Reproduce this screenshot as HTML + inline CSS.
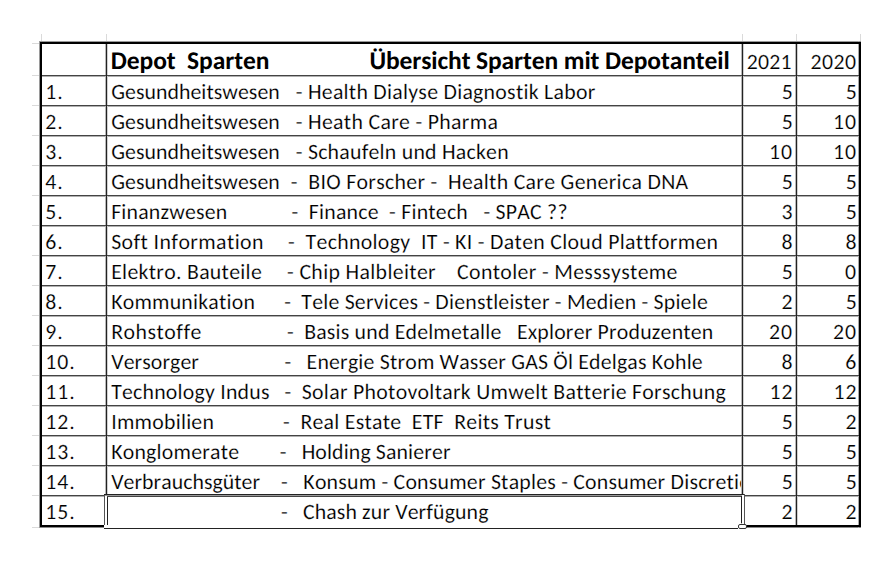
<!DOCTYPE html>
<html><head><meta charset="utf-8"><title>Depot Sparten</title>
<style>
html,body{margin:0;padding:0;background:#fff;}
body{width:891px;height:566px;position:relative;overflow:hidden;font-family:"Carlito", "Liberation Sans", sans-serif;color:#000;font-kerning:none;font-variant-ligatures:none;font-feature-settings:"kern" 0,"liga" 0,"clig" 0;text-rendering:geometricPrecision;}
.t{position:absolute;font-size:21.8px;line-height:30px;height:30px;white-space:pre;-webkit-text-stroke:0.2px rgba(255,255,255,0.9);}
.b{font-weight:bold;font-size:25.5px;-webkit-text-stroke:0;}
.ln{position:absolute;}
.h{height:1px;background:#444;box-shadow:0 1px 0 #b0b0b0;}
.v{width:1px;background:#222;box-shadow:-1px 0 0 #b8b8b8,1px 0 0 #d0d0d0;}
.g{position:absolute;background:#dadada;}
.clip{position:absolute;overflow:hidden;height:30px;}
body.fb .t{font-family:"Liberation Sans",Arial,sans-serif;font-size:19.62px;letter-spacing:0 !important;-webkit-text-stroke:0;transform-origin:0 0;}
body.fb .b{font-size:22.95px;}
</style></head><body>

<div class="g" style="left:41px;top:34px;width:1px;height:8px"></div>
<div class="g" style="left:106px;top:34px;width:1px;height:8px"></div>
<div class="g" style="left:742px;top:34px;width:1px;height:8px"></div>
<div class="g" style="left:796px;top:34px;width:1px;height:8px"></div>
<div class="g" style="left:860px;top:34px;width:1px;height:8px"></div>
<div class="g" style="left:32px;top:43px;width:8px;height:1px"></div>
<div class="g" style="left:32px;top:75px;width:8px;height:1px"></div>
<div class="g" style="left:32px;top:105px;width:8px;height:1px"></div>
<div class="g" style="left:32px;top:135px;width:8px;height:1px"></div>
<div class="g" style="left:32px;top:165px;width:8px;height:1px"></div>
<div class="g" style="left:32px;top:195px;width:8px;height:1px"></div>
<div class="g" style="left:32px;top:225px;width:8px;height:1px"></div>
<div class="g" style="left:32px;top:255px;width:8px;height:1px"></div>
<div class="g" style="left:32px;top:285px;width:8px;height:1px"></div>
<div class="g" style="left:32px;top:315px;width:8px;height:1px"></div>
<div class="g" style="left:32px;top:345px;width:8px;height:1px"></div>
<div class="g" style="left:32px;top:375px;width:8px;height:1px"></div>
<div class="g" style="left:32px;top:405px;width:8px;height:1px"></div>
<div class="g" style="left:32px;top:435px;width:8px;height:1px"></div>
<div class="g" style="left:32px;top:465px;width:8px;height:1px"></div>
<div class="g" style="left:32px;top:495px;width:8px;height:1px"></div>
<div class="g" style="left:32px;top:527px;width:8px;height:1px"></div>
<div class="ln" style="left:39px;top:41px;width:822px;height:1px;background:#9a9a9a"></div>
<div class="ln" style="left:39px;top:527px;width:822px;height:1px;background:#8a8a8a"></div>
<div class="ln" style="left:39px;top:41px;width:1px;height:487px;background:#9a9a9a"></div>
<div class="ln" style="left:858px;top:41px;width:1px;height:487px;background:#a8a8a8"></div>
<div class="ln" style="left:42px;top:76px;width:817px;height:1px;background:#b0b0b0"></div>
<div class="ln" style="left:42px;top:106px;width:817px;height:1px;background:#b0b0b0"></div>
<div class="ln" style="left:42px;top:136px;width:817px;height:1px;background:#b0b0b0"></div>
<div class="ln" style="left:42px;top:166px;width:817px;height:1px;background:#b0b0b0"></div>
<div class="ln" style="left:42px;top:196px;width:817px;height:1px;background:#b0b0b0"></div>
<div class="ln" style="left:42px;top:226px;width:817px;height:1px;background:#b0b0b0"></div>
<div class="ln" style="left:42px;top:256px;width:817px;height:1px;background:#b0b0b0"></div>
<div class="ln" style="left:42px;top:286px;width:817px;height:1px;background:#b0b0b0"></div>
<div class="ln" style="left:42px;top:316px;width:817px;height:1px;background:#b0b0b0"></div>
<div class="ln" style="left:42px;top:346px;width:817px;height:1px;background:#b0b0b0"></div>
<div class="ln" style="left:42px;top:376px;width:817px;height:1px;background:#b0b0b0"></div>
<div class="ln" style="left:42px;top:406px;width:817px;height:1px;background:#b0b0b0"></div>
<div class="ln" style="left:42px;top:436px;width:817px;height:1px;background:#b0b0b0"></div>
<div class="ln" style="left:42px;top:466px;width:817px;height:1px;background:#b0b0b0"></div>
<div class="ln" style="left:42px;top:496px;width:817px;height:1px;background:#b0b0b0"></div>
<div class="ln" style="left:105px;top:44px;width:1px;height:481px;background:#b8b8b8"></div>
<div class="ln" style="left:107px;top:44px;width:1px;height:481px;background:#d0d0d0"></div>
<div class="ln" style="left:741px;top:44px;width:1px;height:481px;background:#b8b8b8"></div>
<div class="ln" style="left:743px;top:44px;width:1px;height:481px;background:#d0d0d0"></div>
<div class="ln" style="left:795px;top:44px;width:1px;height:481px;background:#b8b8b8"></div>
<div class="ln" style="left:797px;top:44px;width:1px;height:481px;background:#d0d0d0"></div>
<div class="ln" style="left:42px;top:75px;width:817px;height:1px;background:#444"></div>
<div class="ln" style="left:42px;top:105px;width:817px;height:1px;background:#444"></div>
<div class="ln" style="left:42px;top:135px;width:817px;height:1px;background:#444"></div>
<div class="ln" style="left:42px;top:165px;width:817px;height:1px;background:#444"></div>
<div class="ln" style="left:42px;top:195px;width:817px;height:1px;background:#444"></div>
<div class="ln" style="left:42px;top:225px;width:817px;height:1px;background:#444"></div>
<div class="ln" style="left:42px;top:255px;width:817px;height:1px;background:#444"></div>
<div class="ln" style="left:42px;top:285px;width:817px;height:1px;background:#444"></div>
<div class="ln" style="left:42px;top:315px;width:817px;height:1px;background:#444"></div>
<div class="ln" style="left:42px;top:345px;width:817px;height:1px;background:#444"></div>
<div class="ln" style="left:42px;top:375px;width:817px;height:1px;background:#444"></div>
<div class="ln" style="left:42px;top:405px;width:817px;height:1px;background:#444"></div>
<div class="ln" style="left:42px;top:435px;width:817px;height:1px;background:#444"></div>
<div class="ln" style="left:42px;top:465px;width:817px;height:1px;background:#444"></div>
<div class="ln" style="left:42px;top:495px;width:817px;height:1px;background:#444"></div>
<div class="ln" style="left:106px;top:44px;width:1px;height:481px;background:#222"></div>
<div class="ln" style="left:742px;top:44px;width:1px;height:481px;background:#222"></div>
<div class="ln" style="left:796px;top:44px;width:1px;height:481px;background:#222"></div>
<div class="ln" style="left:40px;top:42px;width:821px;height:2px;background:#000"></div>
<div class="ln" style="left:40px;top:525px;width:821px;height:2px;background:#000"></div>
<div class="ln" style="left:40px;top:42px;width:2px;height:485px;background:#000"></div>
<div class="ln" style="left:859px;top:42px;width:2px;height:485px;background:#000"></div>
<div class="t b" style="left:110.66px;top:46px;width:158.83px;letter-spacing:-0.042px">Depot  Sparten</div>
<div class="t b" style="left:369.41px;top:46px;width:360.14px;letter-spacing:-0.098px">Übersicht Sparten mit Depotanteil</div>
<div class="t" style="left:746.72px;top:47px;width:45.08px;letter-spacing:0.221px">2021</div>
<div class="t" style="left:810.62px;top:47px;width:45.73px;letter-spacing:0.382px">2020</div>
<div class="t" style="left:45.20px;top:77px;width:18.55px;letter-spacing:1.0px">1.</div>
<div class="t" style="left:111.20px;top:77px;width:168.68px;letter-spacing:0.050px">Gesundheitswesen</div>
<div class="t" style="left:295.80px;top:77px;width:299.79px;letter-spacing:0.264px">- Health Dialyse Diagnostik Labor</div>
<div class="t" style="left:781.84px;top:77px;width:12.05px;letter-spacing:1.0px">5</div>
<div class="t" style="left:845.84px;top:77px;width:12.05px;letter-spacing:1.0px">5</div>
<div class="t" style="left:45.20px;top:107px;width:18.55px;letter-spacing:1.0px">2.</div>
<div class="t" style="left:111.20px;top:107px;width:168.68px;letter-spacing:0.050px">Gesundheitswesen</div>
<div class="t" style="left:295.80px;top:107px;width:202.46px;letter-spacing:0.316px">- Heath Care - Pharma</div>
<div class="t" style="left:781.84px;top:107px;width:12.05px;letter-spacing:1.0px">5</div>
<div class="t" style="left:833.07px;top:107px;width:24.10px;letter-spacing:1.0px">10</div>
<div class="t" style="left:45.20px;top:137px;width:18.55px;letter-spacing:1.0px">3.</div>
<div class="t" style="left:111.20px;top:137px;width:168.68px;letter-spacing:0.050px">Gesundheitswesen</div>
<div class="t" style="left:295.80px;top:137px;width:213.07px;letter-spacing:0.239px">- Schaufeln und Hacken</div>
<div class="t" style="left:769.07px;top:137px;width:24.10px;letter-spacing:1.0px">10</div>
<div class="t" style="left:833.07px;top:137px;width:24.10px;letter-spacing:1.0px">10</div>
<div class="t" style="left:45.20px;top:167px;width:18.55px;letter-spacing:1.0px">4.</div>
<div class="t" style="left:111.20px;top:167px;width:168.68px;letter-spacing:0.050px">Gesundheitswesen</div>
<div class="t" style="left:290.80px;top:167px;width:397.68px;letter-spacing:0.303px">-  BIO Forscher -  Health Care Generica DNA</div>
<div class="t" style="left:781.84px;top:167px;width:12.05px;letter-spacing:1.0px">5</div>
<div class="t" style="left:845.84px;top:167px;width:12.05px;letter-spacing:1.0px">5</div>
<div class="t" style="left:45.20px;top:197px;width:18.55px;letter-spacing:1.0px">5.</div>
<div class="t" style="left:111.20px;top:197px;width:116.10px;letter-spacing:0.169px">Finanzwesen</div>
<div class="t" style="left:291.60px;top:197px;width:276.22px;letter-spacing:0.226px">-  Finance  - Fintech   - SPAC ??</div>
<div class="t" style="left:781.38px;top:197px;width:12.05px;letter-spacing:1.0px">3</div>
<div class="t" style="left:845.84px;top:197px;width:12.05px;letter-spacing:1.0px">5</div>
<div class="t" style="left:45.20px;top:227px;width:18.55px;letter-spacing:1.0px">6.</div>
<div class="t" style="left:111.20px;top:227px;width:152.63px;letter-spacing:0.402px">Soft Information</div>
<div class="t" style="left:288.10px;top:227px;width:430.34px;letter-spacing:0.315px">-  Technology  IT - KI - Daten Cloud Plattformen</div>
<div class="t" style="left:781.42px;top:227px;width:12.05px;letter-spacing:1.0px">8</div>
<div class="t" style="left:845.42px;top:227px;width:12.05px;letter-spacing:1.0px">8</div>
<div class="t" style="left:45.20px;top:257px;width:18.55px;letter-spacing:1.0px">7.</div>
<div class="t" style="left:111.20px;top:257px;width:150.88px;letter-spacing:0.287px">Elektro. Bauteile</div>
<div class="t" style="left:287.10px;top:257px;width:390.73px;letter-spacing:0.341px">- Chip Halbleiter    Contoler - Messsysteme</div>
<div class="t" style="left:781.84px;top:257px;width:12.05px;letter-spacing:1.0px">5</div>
<div class="t" style="left:845.12px;top:257px;width:12.05px;letter-spacing:1.0px">0</div>
<div class="t" style="left:45.20px;top:287px;width:18.55px;letter-spacing:1.0px">8.</div>
<div class="t" style="left:111.20px;top:287px;width:143.94px;letter-spacing:0.214px">Kommunikation</div>
<div class="t" style="left:284.20px;top:287px;width:423.79px;letter-spacing:0.209px">-  Tele Services - Dienstleister - Medien - Spiele</div>
<div class="t" style="left:781.48px;top:287px;width:12.05px;letter-spacing:1.0px">2</div>
<div class="t" style="left:845.84px;top:287px;width:12.05px;letter-spacing:1.0px">5</div>
<div class="t" style="left:45.20px;top:317px;width:18.55px;letter-spacing:1.0px">9.</div>
<div class="t" style="left:111.20px;top:317px;width:90.79px;letter-spacing:0.503px">Rohstoffe</div>
<div class="t" style="left:287.10px;top:317px;width:426.42px;letter-spacing:0.190px">-  Basis und Edelmetalle   Explorer Produzenten</div>
<div class="t" style="left:769.07px;top:317px;width:24.10px;letter-spacing:1.0px">20</div>
<div class="t" style="left:833.07px;top:317px;width:24.10px;letter-spacing:1.0px">20</div>
<div class="t" style="left:45.20px;top:347px;width:30.60px;letter-spacing:1.0px">10.</div>
<div class="t" style="left:111.20px;top:347px;width:87.80px;letter-spacing:0.072px">Versorger</div>
<div class="t" style="left:284.40px;top:347px;width:418.58px;letter-spacing:0.191px">-   Energie Strom Wasser GAS Öl Edelgas Kohle</div>
<div class="t" style="left:781.42px;top:347px;width:12.05px;letter-spacing:1.0px">8</div>
<div class="t" style="left:845.31px;top:347px;width:12.05px;letter-spacing:1.0px">6</div>
<div class="t" style="left:45.20px;top:377px;width:30.60px;letter-spacing:1.0px">11.</div>
<div class="t" style="left:111.20px;top:377px;width:158.45px;letter-spacing:0.214px">Technology Indus</div>
<div class="t" style="left:284.40px;top:377px;width:441.77px;letter-spacing:0.288px">-  Solar Photovoltark Umwelt Batterie Forschung</div>
<div class="t" style="left:769.43px;top:377px;width:24.10px;letter-spacing:1.0px">12</div>
<div class="t" style="left:833.43px;top:377px;width:24.10px;letter-spacing:1.0px">12</div>
<div class="t" style="left:45.20px;top:407px;width:30.60px;letter-spacing:1.0px">12.</div>
<div class="t" style="left:111.20px;top:407px;width:102.97px;letter-spacing:0.239px">Immobilien</div>
<div class="t" style="left:283.10px;top:407px;width:267.94px;letter-spacing:0.261px">-  Real Estate  ETF  Reits Trust</div>
<div class="t" style="left:781.84px;top:407px;width:12.05px;letter-spacing:1.0px">5</div>
<div class="t" style="left:845.48px;top:407px;width:12.05px;letter-spacing:1.0px">2</div>
<div class="t" style="left:45.20px;top:437px;width:30.60px;letter-spacing:1.0px">13.</div>
<div class="t" style="left:111.20px;top:437px;width:128.11px;letter-spacing:0.218px">Konglomerate</div>
<div class="t" style="left:279.70px;top:437px;width:170.95px;letter-spacing:0.125px">-   Holding Sanierer</div>
<div class="t" style="left:781.84px;top:437px;width:12.05px;letter-spacing:1.0px">5</div>
<div class="t" style="left:845.84px;top:437px;width:12.05px;letter-spacing:1.0px">5</div>
<div class="t" style="left:45.20px;top:467px;width:30.60px;letter-spacing:1.0px">14.</div>
<div class="t" style="left:111.20px;top:467px;width:148.96px;letter-spacing:0.036px">Verbrauchsgüter</div>
<div class="clip" style="left:281.00px;top:467px;width:460.00px"><div class="t" style="left:0;top:0;width:510.26px;letter-spacing:0.223px">-   Konsum - Consumer Staples - Consumer Discretionary</div></div>
<div class="t" style="left:781.84px;top:467px;width:12.05px;letter-spacing:1.0px">5</div>
<div class="t" style="left:845.84px;top:467px;width:12.05px;letter-spacing:1.0px">5</div>
<div class="t" style="left:45.20px;top:497px;width:30.60px;letter-spacing:1.0px">15.</div>
<div class="t" style="left:281.00px;top:497px;width:207.60px;letter-spacing:0.120px">-   Chash zur Verfügung</div>
<div class="t" style="left:781.48px;top:497px;width:12.05px;letter-spacing:1.0px">2</div>
<div class="t" style="left:845.48px;top:497px;width:12.05px;letter-spacing:1.0px">2</div>
<div class="ln" style="left:104px;top:525px;width:641px;height:3px;background:#fff"></div>
<div class="ln" style="left:105px;top:525px;width:3px;height:1px;background:#fff"></div>
<div class="ln" style="left:104px;top:528px;width:634px;height:1px;background:#222"></div>
<div class="ln" style="left:104px;top:494px;width:1px;height:31px;background:#555"></div>
<div class="ln" style="left:105px;top:495px;width:2px;height:30px;background:#fff"></div>
<div class="ln" style="left:107px;top:496px;width:1px;height:29px;background:#222"></div>
<div class="ln" style="left:104px;top:494px;width:641px;height:1px;background:#222"></div>
<div class="ln" style="left:105px;top:495px;width:639px;height:1px;background:#9a9a9a"></div>
<div class="ln" style="left:107px;top:496px;width:635px;height:1px;background:#444"></div>
<div class="ln" style="left:741px;top:496px;width:1px;height:27px;background:#222"></div>
<div class="ln" style="left:742px;top:495px;width:2px;height:29px;background:#fff"></div>
<div class="ln" style="left:744px;top:494px;width:1px;height:30px;background:#555"></div>
<div class="ln" style="left:738px;top:524px;width:7px;height:3px;background:#fff;border:1px solid #333;border-radius:2px"></div>
<script>
(function(){
  try{
    var s=document.createElement('span');
    s.style.cssText='position:absolute;left:0;top:0;visibility:hidden;white-space:pre;font-size:40px;font-family:Carlito,monospace';
    s.textContent='Gesundheitswesen Diagnostik Labor';
    document.body.appendChild(s);
    var w1=s.getBoundingClientRect().width;
    s.style.fontFamily='monospace';
    var w2=s.getBoundingClientRect().width;
    document.body.removeChild(s);
    if(Math.abs(w1-w2)>0.5) return;
    document.body.className+=' fb';
    var els=document.querySelectorAll('.t');
    for(var i=0;i<els.length;i++){
      var e=els[i], tw=parseFloat(e.style.width);
      e.style.width='auto';
      var w=e.getBoundingClientRect().width;
      if(w>0&&tw>0){e.style.transform='scaleX('+(tw/w).toFixed(4)+')';}
    }
  }catch(err){}
})();
</script>

</body></html>
